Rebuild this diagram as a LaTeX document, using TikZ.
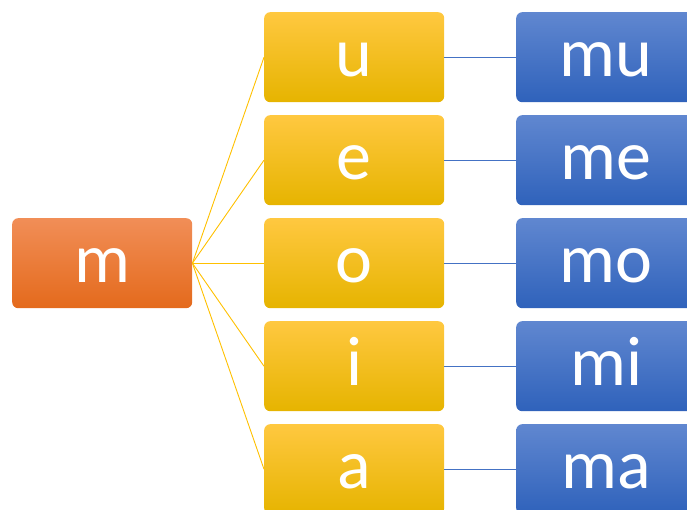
\documentclass[tikz,border=0pt]{standalone}
\usepackage{fontspec}
\setmainfont{Carlito}
\begin{document}
\begin{tikzpicture}[x=1pt,y=-1pt,
  box/.style={rounded corners=6pt, minimum width=180pt, minimum height=90pt, inner sep=0pt,
    text=white, font=\fontsize{70}{70}\selectfont, text height=38pt, text depth=0pt, anchor=north west},
  rootbox/.style={box, top color=orange!40!red!10!white!0!orange, top color={rgb,255:red,241;green,142;blue,87}, middle color={rgb,255:red,242;green,124;blue,40}, bottom color={rgb,255:red,228;green,106;blue,28}},
  vowelbox/.style={box, top color={rgb,255:red,255;green,200;blue,64}, middle color={rgb,255:red,255;green,192;blue,0}, bottom color={rgb,255:red,230;green,180;blue,0}},
  sylbox/.style={box, top color={rgb,255:red,96;green,135;blue,208}, middle color={rgb,255:red,65;green,109;blue,197}, bottom color={rgb,255:red,47;green,98;blue,187}},
  yline/.style={draw={rgb,255:red,255;green,192;blue,0}, line width=0.9pt},
  bline/.style={draw={rgb,255:red,68;green,114;blue,196}, line width=0.9pt}
]
\useasboundingbox (0,0) rectangle (687,510);
\node[rootbox] (m) at (12,218) {m};
\foreach \v/\y [count=\i] in {u/12,e/115,o/218,i/321,a/424}{
  \node[vowelbox] (v\i) at (264,\y) {\v};
  \node[sylbox] (s\i) at (516,\y) {m\v};
  \draw[yline] (m.east) -- (v\i.west);
  \draw[bline] (v\i.east) -- (s\i.west);
}
\end{tikzpicture}
\end{document}
